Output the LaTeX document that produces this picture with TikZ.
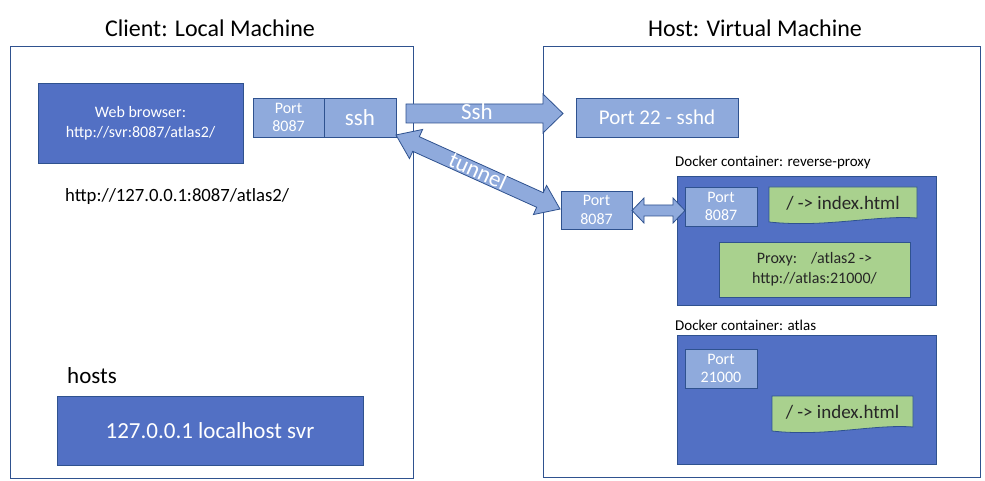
\documentclass[tikz,border=0pt]{standalone}
\usepackage{fontspec}
\setmainfont{Carlito}
\definecolor{dblue}{HTML}{5270C4}
\definecolor{lblue}{HTML}{8FAADC}
\definecolor{edge}{HTML}{2F528F}
\definecolor{lgreen}{HTML}{A9D18E}
\definecolor{dtext}{HTML}{262626}
\newcommand\fz[2]{\fontsize{#1}{#2}\selectfont}
\begin{document}
\begin{tikzpicture}[x=1pt,y=-1pt,
  box/.style={draw=edge, line width=0.8pt, inner sep=0pt, align=center, anchor=center},
  darkbox/.style={box, fill=dblue, text=white},
  portbox/.style={box, fill=lblue, text=white, font=\fz{16}{18.5}},
  greenbox/.style={box, fill=lgreen, text=dtext},
  machine/.style={box, fill=white},
  blockarrow/.style={draw=edge, line width=0.8pt, fill=lblue, line join=miter},
  docshape/.style={draw=edge, line width=0.8pt, fill=lgreen},
  lbl/.style={inner sep=0pt, anchor=west, text=black},
  arrowtext/.style={inner sep=0pt, text=white},
]
\useasboundingbox (0,0) rectangle (985,481);
\fill[white] (0,0) rectangle (985,481);

% titles
\node[inner sep=0pt, font=\fz{24}{28}] (t1) at (210,28) {Client: Local Machine};
\node[inner sep=0pt, font=\fz{24}{28}] (t2) at (755,28) {Host: Virtual Machine};

% machines
\node[machine, minimum width=403pt, minimum height=432pt] (lm) at (211.5,262) {};
\node[machine, minimum width=437pt, minimum height=431pt] (rm) at (761.5,261.5) {};

% client side
\node[darkbox, minimum width=205pt, minimum height=80pt, font=\fz{16}{20}] (web) at (140.5,123)
  {Web browser:\\http://svr:8087/atlas2/};
\node[portbox, minimum width=71pt, minimum height=39pt] (porta) at (288.5,117.5) {Port\\8087};
\node[portbox, minimum width=72pt, minimum height=39pt, font=\fz{23}{26}] (sshbox) at (360,117.5) {ssh};
\node[lbl, font=\fz{18.7}{22}] (url) at (65,197) {http://127.0.0.1:8087/atlas2/};
\node[lbl, font=\fz{23}{26}] (hostslbl) at (67,376) {hosts};
\node[darkbox, minimum width=306pt, minimum height=69pt, font=\fz{23}{27}] (hostsbox) at (210,430.5)
  {127.0.0.1 localhost svr};

% host side
\node[portbox, minimum width=162pt, minimum height=39pt, font=\fz{21}{24}] (sshd) at (657,117.5) {Port 22 - sshd};
\node[portbox, minimum width=71pt, minimum height=38pt] (portb) at (596.5,210) {Port\\8087};

\node[lbl, font=\fz{15}{17}] (rplbl) at (675,163) {Docker container: reverse-proxy};
\node[darkbox, minimum width=259pt, minimum height=129pt] (rp) at (806.5,240.5) {};
\node[portbox, minimum width=72pt, minimum height=39pt] (portc) at (721,206.5) {Port\\8087};
\draw[docshape] (769,187) -- (917,187) -- (917,218)
  .. controls (875,215) and (825,228) .. (769,222) -- cycle;
\node[inner sep=0pt, text=dtext, font=\fz{19}{22}] (idx1) at (843,203) {/ -> index.html};
\node[greenbox, minimum width=191pt, minimum height=55pt, font=\fz{16}{20}] (proxy) at (814.5,269.5)
  {Proxy:\hspace{14pt}/atlas2 ->\\http://atlas:21000/};

\node[lbl, font=\fz{15}{17}] (atlbl) at (675,325) {Docker container: atlas};
\node[darkbox, minimum width=259pt, minimum height=129pt] (atlas) at (806.5,399.5) {};
\node[portbox, minimum width=72pt, minimum height=39pt] (portd) at (721,368.5) {Port\\21000};
\draw[docshape] (772,396) -- (913,396) -- (913,427)
  .. controls (873,424) and (825,437) .. (772,431) -- cycle;
\node[inner sep=0pt, text=dtext, font=\fz{19}{22}] (idx2) at (842.5,412) {/ -> index.html};

% Ssh arrow
\draw[blockarrow] (406,104) -- (543,104) -- (543,94) -- (563,113.5) -- (543,133) -- (543,123) -- (406,123) -- cycle;
\node[arrowtext, font=\fz{23}{26}] (sshlbl) at (477,112) {Ssh};

% tunnel arrow
\begin{scope}[shift={(478,172)}, rotate=-24.3]
\draw[blockarrow] (-90,0) -- (-68,-16) -- (-68,-8) -- (68,-8) -- (68,-16) -- (90,0) -- (68,16) -- (68,8) -- (-68,8) -- (-68,16) -- cycle;
\end{scope}
\node[arrowtext, rotate=-24.3, font=\fz{23}{26}] (tunlbl) at (478,171) {tunnel};

% port to port arrow
\draw[blockarrow] (632,210.5) -- (644,198) -- (644,205) -- (673,205) -- (673,198) -- (685,210.5) -- (673,223) -- (673,216) -- (644,216) -- (644,223) -- cycle;

\end{tikzpicture}
\end{document}
